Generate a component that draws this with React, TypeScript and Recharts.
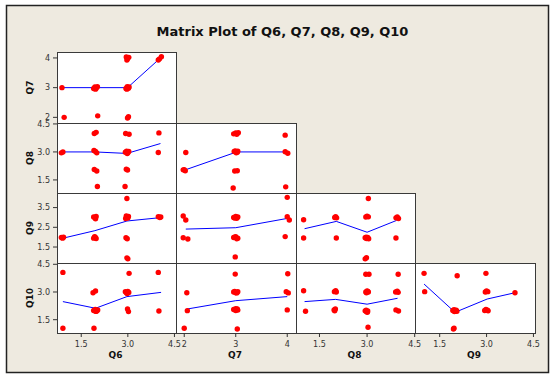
import React from "react";
import { ScatterChart, Scatter, XAxis, YAxis } from "recharts";

// tick labels
const ticksQ6 = [1.5, 3.0, 4.5];
const ticksQ7 = [2, 3, 4];
const ticksQ8 = [1.5, 3.0, 4.5];
const ticksQ9x = [1.5, 3.0, 4.5];
const ticksQ9y = [1.5, 2.5, 3.5];
const ticksQ10 = [1.5, 3.0, 4.5];

// jittered answers per panel, [x, y], and the lowess fit through them
const q7VsQ6 = [
  [0.88, 3.0], [0.95, 2.0],
  [1.9, 2.97], [1.94, 3.02], [1.98, 2.98], [2.02, 3.03], [1.96, 2.95],
  [2.03, 2.05],
  [2.94, 2.97], [2.98, 3.03], [3.02, 2.98], [3.04, 3.02], [2.97, 2.95],
  [2.95, 4.03], [2.99, 3.97], [3.03, 4.02], [2.97, 3.93],
  [2.99, 1.98], [3.02, 2.02],
  [3.98, 3.93], [4.02, 3.97], [4.08, 4.04],
];
const q7VsQ6Fit = [[0.88, 3.0], [1.96, 3.0], [2.99, 3.0], [4.05, 4.0]];

const q8VsQ6 = [
  [0.86, 2.95], [0.91, 3.0],
  [1.92, 3.99], [1.98, 4.05],
  [1.91, 3.08], [1.96, 3.02], [2.0, 2.95],
  [1.92, 2.06], [2.0, 1.98],
  [2.02, 1.15],
  [2.93, 3.99], [3.04, 3.95],
  [2.92, 2.98], [2.96, 3.04], [3.0, 2.96], [3.03, 3.02], [2.98, 2.92],
  [2.95, 2.07], [2.99, 2.03],
  [2.91, 1.15],
  [4.0, 4.02],
  [3.98, 2.97],
];
const q8VsQ6Fit = [[0.89, 3.0], [1.94, 3.0], [2.97, 2.92], [4.05, 3.45]];

const q8VsQ7 = [
  [2.03, 2.97],
  [1.98, 2.04], [2.02, 1.99], [2.0, 2.05],
  [2.96, 3.97], [3.0, 4.02], [3.05, 4.03], [3.02, 3.95],
  [2.97, 3.02], [3.01, 2.96], [3.04, 3.04], [3.03, 2.98], [2.99, 3.05],
  [2.98, 1.98], [3.03, 1.99],
  [2.95, 1.07],
  [3.96, 3.9],
  [3.96, 3.01], [4.01, 2.93],
  [3.97, 1.13],
];
const q8VsQ7Fit = [[2.0, 2.02], [3.02, 3.0], [4.02, 3.0]];

const q9VsQ6 = [
  [0.86, 1.98], [0.9, 1.95], [0.93, 2.0],
  [1.9, 3.02], [1.95, 2.97], [1.98, 3.05], [1.96, 2.93],
  [1.9, 1.95], [1.95, 2.0], [1.98, 1.93], [1.93, 2.03],
  [2.97, 3.96],
  [2.93, 2.95], [2.97, 3.02], [3.0, 2.97], [3.02, 3.05], [2.95, 3.07],
  [2.94, 1.97], [2.98, 1.92],
  [2.97, 0.95], [3.0, 0.9],
  [3.98, 3.04], [4.03, 3.0], [4.06, 3.02],
];
const q9VsQ6Fit = [[0.89, 1.94], [1.94, 2.33], [2.97, 2.82], [3.98, 2.98]];

const q9VsQ7 = [
  [1.98, 3.07], [2.03, 2.87],
  [1.98, 1.97], [2.07, 1.91],
  [2.96, 3.0], [3.0, 3.05], [3.04, 3.02], [3.02, 2.96], [2.98, 2.97],
  [2.96, 1.98], [3.0, 2.03], [3.04, 1.95], [3.02, 1.92], [2.98, 2.0],
  [2.99, 1.0],
  [4.0, 4.02],
  [4.0, 3.04], [4.04, 2.87],
  [3.96, 2.03],
];
const q9VsQ7Fit = [[2.03, 2.41], [3.0, 2.48], [4.0, 2.95]];

const q9VsQ8 = [
  [1.0, 2.88], [1.0, 1.96],
  [1.98, 3.0], [2.01, 3.04], [2.04, 2.98],
  [2.03, 1.96],
  [3.04, 3.96],
  [2.96, 3.02], [3.0, 3.06], [3.04, 3.03],
  [2.94, 1.97], [2.98, 1.93], [3.02, 1.98], [3.05, 1.92], [2.97, 2.0],
  [2.94, 0.9], [2.98, 0.96],
  [3.91, 2.98], [3.95, 3.03], [3.99, 2.95],
  [3.91, 1.96],
];
const q9VsQ8Fit = [[1.03, 2.43], [2.03, 2.8], [3.0, 2.25], [3.93, 2.85]];

const q10VsQ6 = [
  [0.91, 4.06], [0.91, 1.04],
  [1.88, 2.96], [1.96, 3.05],
  [1.9, 2.0], [1.95, 2.05], [2.0, 1.97], [2.03, 2.03], [1.97, 1.95],
  [1.91, 1.04],
  [3.04, 4.01],
  [2.92, 3.02], [2.96, 2.95], [3.0, 3.03], [3.03, 2.97], [2.98, 2.92],
  [2.99, 2.08], [3.02, 1.94],
  [3.98, 4.06], [4.0, 1.97],
];
const q10VsQ6Fit = [[0.91, 2.48], [1.96, 2.12], [2.97, 2.75], [4.07, 2.98]];

const q10VsQ7 = [
  [2.0, 1.04], [2.05, 2.96], [2.06, 1.99],
  [2.99, 3.97],
  [2.96, 3.0], [3.0, 2.96], [3.04, 3.02], [3.02, 2.95], [2.98, 3.03],
  [2.96, 2.05], [3.0, 2.1], [3.04, 2.02], [3.0, 2.0], [3.03, 2.08],
  [3.03, 1.0],
  [4.01, 3.99],
  [3.98, 3.02], [4.02, 2.95],
  [4.0, 2.03],
];
const q10VsQ7Fit = [[2.06, 2.08], [3.0, 2.53], [4.0, 2.75]];

const q10VsQ8 = [
  [1.0, 3.07], [1.06, 1.96],
  [1.97, 3.02], [2.01, 3.07], [2.03, 3.0],
  [1.96, 2.03], [2.0, 2.08], [1.98, 1.98],
  [2.96, 3.96], [3.06, 3.96],
  [2.96, 3.0], [3.0, 3.05], [3.04, 3.0], [2.98, 2.96], [3.02, 3.03],
  [2.94, 1.98], [2.98, 1.93], [3.02, 1.97], [2.97, 2.02], [3.01, 1.9],
  [3.03, 1.09],
  [3.98, 3.96],
  [3.9, 3.0], [3.95, 3.04], [3.98, 2.98],
  [3.91, 2.03], [3.99, 1.97],
];
const q10VsQ8Fit = [[1.03, 2.48], [2.01, 2.6], [3.0, 2.34], [3.96, 2.66]];

const q10VsQ9 = [
  [1.0, 4.01], [1.02, 3.02],
  [2.06, 3.88],
  [1.92, 2.0], [1.96, 2.04], [2.0, 1.97], [2.03, 2.02], [1.97, 1.94], [2.05, 1.96],
  [1.96, 1.04], [1.94, 1.0],
  [2.98, 4.01],
  [2.96, 3.0], [3.0, 3.05], [3.04, 3.02],
  [2.94, 2.0], [2.98, 2.05], [3.03, 2.02], [3.05, 1.98],
  [3.91, 2.96],
];
const q10VsQ9Fit = [[1.0, 3.43], [1.99, 1.9], [3.02, 2.62], [3.91, 2.96]];

type Ax = { domain: [number, number]; ticks: number[]; digits: number };
const axQ6: Ax = { domain: [0.72, 4.55], ticks: ticksQ6, digits: 1 };
const axQ7x: Ax = { domain: [1.84, 4.17], ticks: ticksQ7, digits: 0 };
const axQ7y: Ax = { domain: [1.81, 4.2], ticks: ticksQ7, digits: 0 };
const axQ8x: Ax = { domain: [0.76, 4.51], ticks: ticksQ8, digits: 1 };
const axQ8y: Ax = { domain: [0.8, 4.55], ticks: ticksQ8, digits: 1 };
const axQ9x: Ax = { domain: [0.71, 4.55], ticks: ticksQ9x, digits: 1 };
const axQ9y: Ax = { domain: [0.69, 4.24], ticks: ticksQ9y, digits: 1 };
const axQ10y: Ax = { domain: [0.78, 4.57], ticks: ticksQ10, digits: 1 };

const COL_X = [57, 176, 296, 415, 535];
const ROW_Y = [52, 123, 193, 263, 333];
const PAD = 8; // room round each panel so edge tick labels are not clipped
const FONT = "DejaVu Sans";

const panels = [
  { row: 0, col: 0, pts: q7VsQ6, fit: q7VsQ6Fit, x: axQ6, y: axQ7y },
  { row: 1, col: 0, pts: q8VsQ6, fit: q8VsQ6Fit, x: axQ6, y: axQ8y },
  { row: 1, col: 1, pts: q8VsQ7, fit: q8VsQ7Fit, x: axQ7x, y: axQ8y },
  { row: 2, col: 0, pts: q9VsQ6, fit: q9VsQ6Fit, x: axQ6, y: axQ9y },
  { row: 2, col: 1, pts: q9VsQ7, fit: q9VsQ7Fit, x: axQ7x, y: axQ9y },
  { row: 2, col: 2, pts: q9VsQ8, fit: q9VsQ8Fit, x: axQ8x, y: axQ9y },
  { row: 3, col: 0, pts: q10VsQ6, fit: q10VsQ6Fit, x: axQ6, y: axQ10y },
  { row: 3, col: 1, pts: q10VsQ7, fit: q10VsQ7Fit, x: axQ7x, y: axQ10y },
  { row: 3, col: 2, pts: q10VsQ8, fit: q10VsQ8Fit, x: axQ8x, y: axQ10y },
  { row: 3, col: 3, pts: q10VsQ9, fit: q10VsQ9Fit, x: axQ9x, y: axQ10y },
];

const rowNames = ["Q7", "Q8", "Q9", "Q10"];
const colNames = ["Q6", "Q7", "Q8", "Q9"];

const toXY = (a: number[][]) => a.map(([x, y]) => ({ x, y }));

const RedDot = (p: any) => <circle cx={p.cx} cy={p.cy} r={2.7} fill="#ff0000" />;
const NoDot = () => <g />;

function Panel({ row, col, pts, fit, x, y }: any) {
  const isLeft = col === 0;
  const isBottom = row === 3;
  const yw = isLeft ? 57 : 0;
  const xh = isBottom ? 22 : 0;
  const w = COL_X[col + 1] - COL_X[col];
  const h = ROW_Y[row + 1] - ROW_Y[row];
  const tickStyle = { fontSize: 8, fill: "#333", fontFamily: FONT };
  return (
    <div style={{ position: "absolute", left: COL_X[col] - yw, top: ROW_Y[row] - PAD }}>
      <ScatterChart
        width={w + yw + PAD}
        height={h + xh + PAD}
        margin={{ top: PAD, right: PAD, bottom: 0, left: 0 }}
      >
        <XAxis
          type="number"
          dataKey="x"
          domain={x.domain}
          allowDataOverflow
          ticks={x.ticks}
          interval={0}
          hide={!isBottom}
          height={xh}
          axisLine={false}
          tickLine={{ stroke: "#333" }}
          tickSize={4}
          tickMargin={4}
          tick={tickStyle}
          tickFormatter={(v: number) => v.toFixed(x.digits)}
        />
        <YAxis
          type="number"
          dataKey="y"
          domain={y.domain}
          allowDataOverflow
          ticks={y.ticks}
          interval={0}
          hide={!isLeft}
          width={yw}
          axisLine={false}
          tickLine={{ stroke: "#333" }}
          tickSize={4}
          tickMargin={3}
          tick={tickStyle}
          tickFormatter={(v: number) => v.toFixed(y.digits)}
        />
        <Scatter
          data={toXY(fit)}
          line={{ stroke: "#0000ff", strokeWidth: 1 }}
          shape={NoDot}
          isAnimationActive={false}
        />
        <Scatter data={toXY(pts)} shape={RedDot} isAnimationActive={false} />
      </ScatterChart>
    </div>
  );
}

export default function App() {
  return (
    <div style={{ position: "absolute", left: 0, top: 0, width: 553, height: 375 }}>
      <svg width={553} height={375} style={{ position: "absolute", left: 0, top: 0 }}>
        <rect x={0} y={0} width={553} height={375} fill="#ffffff" />
        <rect x={6.5} y={5.5} width={542} height={367} fill="#eeeae0" stroke="#222" strokeWidth={1.5} />
        {panels.map((p) => (
          <rect
            key={`${p.row}-${p.col}`}
            x={COL_X[p.col] + 0.5}
            y={ROW_Y[p.row] + 0.5}
            width={COL_X[p.col + 1] - COL_X[p.col]}
            height={ROW_Y[p.row + 1] - ROW_Y[p.row]}
            fill="#ffffff"
            stroke="#3a3a3a"
          />
        ))}
        <text x={282.5} y={35.5} textAnchor="middle" fontFamily={FONT} fontWeight="bold" fontSize={13} fill="#111">
          Matrix Plot of Q6, Q7, Q8, Q9, Q10
        </text>
        {rowNames.map((n, i) => (
          <text
            key={n}
            transform={`translate(32.5,${(ROW_Y[i] + ROW_Y[i + 1]) / 2}) rotate(-90)`}
            textAnchor="middle"
            fontFamily={FONT}
            fontWeight="bold"
            fontSize={9}
            fill="#111"
          >
            {n}
          </text>
        ))}
        {colNames.map((n, i) => (
          <text
            key={n}
            x={(COL_X[i] + COL_X[i + 1]) / 2 - 1}
            y={357.5}
            textAnchor="middle"
            fontFamily={FONT}
            fontWeight="bold"
            fontSize={9}
            fill="#111"
          >
            {n}
          </text>
        ))}
      </svg>
      {panels.map((p) => (
        <Panel key={`${p.row}-${p.col}`} {...p} />
      ))}
    </div>
  );
}
